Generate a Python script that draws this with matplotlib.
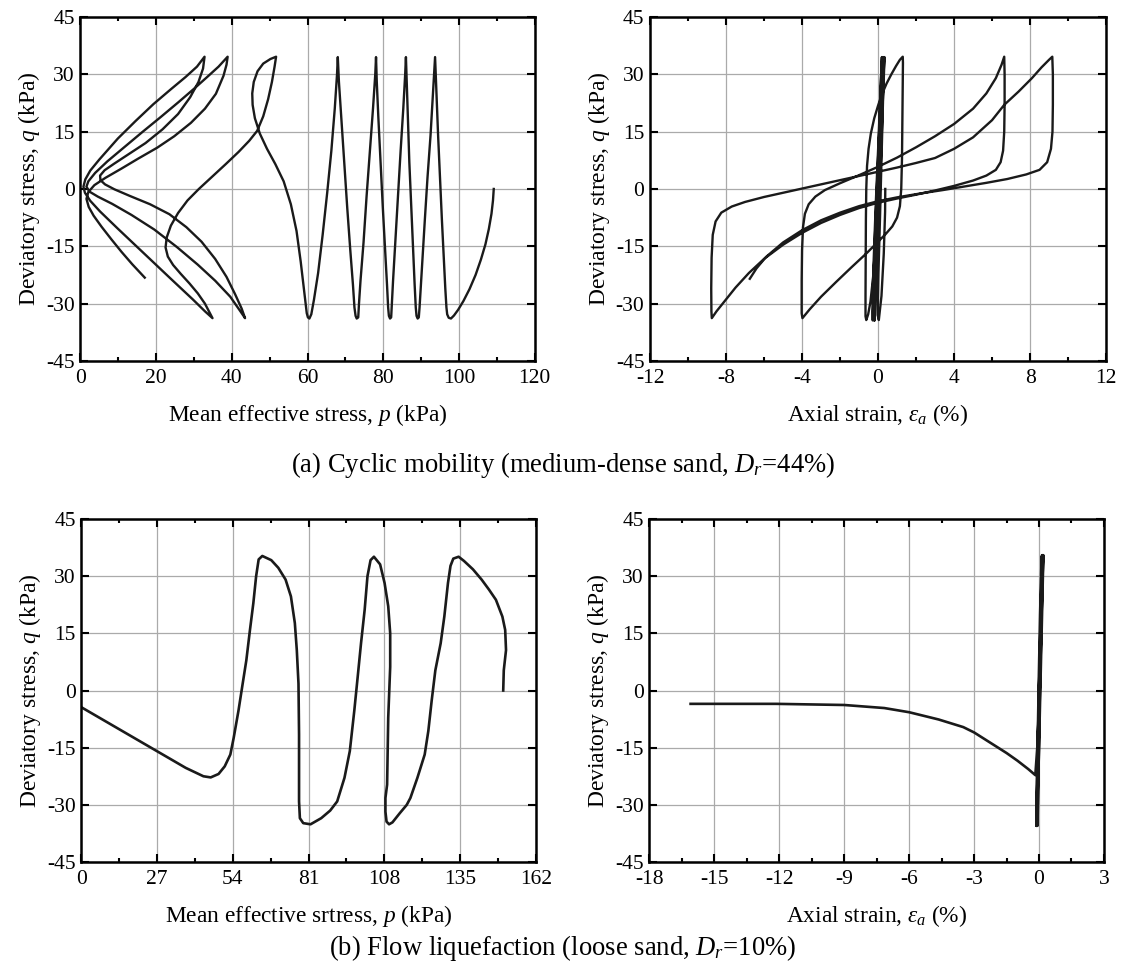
import numpy as np
from matplotlib import pyplot as plt
from matplotlib.ticker import MultipleLocator

plt.rcParams['font.family'] = ['Liberation Serif', 'DejaVu Serif']
plt.rcParams['mathtext.fontset'] = 'custom'
plt.rcParams['mathtext.rm'] = 'Liberation Serif'
plt.rcParams['mathtext.it'] = 'Liberation Serif:italic'
plt.rcParams['axes.unicode_minus'] = False

# (a) cyclic mobility, stress path p-q
pA = [109.2, 109.0, 108.6, 107.9, 107.0, 105.8, 104.4, 102.8, 101.2, 99.8, 98.7, 97.9, 97.3, 96.9, 96.7,
      96.4, 96.0, 95.5, 95.0, 94.5, 94.1, 93.8, 93.7,
      93.5, 93.1, 92.5, 91.7, 91.0, 90.4, 89.9, 89.6, 89.4, 89.1, 88.8, 88.6,
      88.3, 87.9, 87.4, 86.9, 86.5, 86.2, 86.0,
      85.8, 85.3, 84.6, 83.9, 83.2, 82.6, 82.3, 82.1, 81.8, 81.5, 81.3,
      81.0, 80.5, 79.9, 79.3, 78.7, 78.3, 78.1,
      77.9, 77.3, 76.5, 75.6, 74.8, 74.0, 73.6, 73.4, 73.0, 72.7, 72.4,
      72.0, 71.3, 70.5, 69.7, 68.9, 68.3, 68.0,
      67.8, 67.2, 66.3, 65.2, 64.0, 62.8, 61.7, 61.0, 60.5, 60.1, 59.8,
      59.5, 59.0, 58.2, 57.1, 55.6, 53.7, 51.5, 49.3, 47.4, 46.1, 45.5, 45.4, 45.8, 46.8, 48.3, 50.2, 51.7,
      51.3, 50.6, 49.6, 48.3, 46.7, 44.6, 41.8, 38.4, 34.8, 31.3, 28.3, 25.8, 23.9, 22.8, 22.5, 23.1,
      24.5, 26.5, 28.8, 31.0, 32.9, 34.1, 34.9,
      33.0, 29.7, 24.1, 16.5, 9.9, 5.2, 2.6, 1.2, 0.8, 1.3, 2.6, 5.0, 9.9, 14.6, 19.3, 23.8, 27.8, 30.8, 32.8,
      32.4, 31.2, 29.0, 25.8, 21.7, 17.2, 12.6, 8.9, 6.4, 5.2, 5.3, 6.5, 9.0, 13.0, 18.4, 23.5, 28.0, 32.0,
      35.6, 38.6, 40.9, 42.6, 43.5,
      42.4, 39.6, 35.6, 31.0, 25.5, 19.5, 13.5, 8.4, 4.6, 2.4, 1.6, 2.1, 3.9, 7.1, 11.8, 16.5, 21.2, 25.9,
      30.0, 33.5, 36.5, 38.9,
      38.6, 37.8, 35.8, 32.9, 29.2, 24.8, 20.3, 15.2, 10.8, 6.6, 3.7, 2.1, 1.6, 2.2, 3.5, 5.6, 8.2, 10.9,
      13.7, 17.0]
qA = [0.0, -3.0, -6.5, -10.5, -14.5, -18.5, -22.5, -26.2, -29.3, -31.6, -33.1, -33.9, -33.7, -32.8, -31.0,
      -26.0, -18.0, -8.0, 3.0, 14.0, 24.0, 31.0, 34.5,
      31.0, 24.0, 14.0, 3.0, -8.0, -18.0, -26.0, -31.0, -33.6, -33.9, -33.2, -31.0,
      -25.0, -16.0, -5.0, 7.0, 19.0, 28.0, 34.5,
      30.0, 21.0, 10.0, -2.0, -14.0, -24.0, -30.0, -33.6, -33.9, -33.2, -31.0,
      -25.0, -16.0, -5.0, 7.0, 19.0, 28.0, 34.5,
      30.0, 21.0, 10.0, -2.0, -14.0, -24.0, -30.0, -33.6, -33.9, -33.2, -31.0,
      -25.0, -16.0, -5.0, 7.0, 19.0, 28.0, 34.5,
      30.0, 21.0, 10.0, -1.0, -12.0, -22.0, -29.0, -32.8, -33.9, -33.6, -32.5,
      -30.0, -26.0, -19.0, -11.0, -4.0, 2.0, 6.5, 10.5, 14.5, 18.5, 22.0, 25.0, 28.0, 30.8, 32.8, 34.0, 34.6,
      32.0, 28.0, 23.5, 19.0, 15.2, 12.6, 9.7, 6.5, 3.2, 0.0, -3.0, -6.3, -9.6, -12.7, -15.3, -17.7,
      -19.9, -22.2, -24.7, -27.3, -30.0, -32.3, -33.8,
      -32.1, -28.9, -23.7, -16.6, -10.4, -5.9, -3.1, -1.0, 0.6, 2.5, 4.8, 7.7, 13.2, 17.8, 22.2, 26.0, 29.3, 32.0, 34.6,
      31.5, 28.0, 24.0, 19.6, 15.6, 12.0, 9.0, 6.6, 4.9, 3.5, 2.3, 1.2, -0.1, -1.8, -4.0, -6.6, -10.0, -13.8,
      -18.3, -23.0, -27.6, -31.3, -33.8,
      -32.2, -28.2, -24.0, -19.8, -15.2, -10.6, -6.8, -3.9, -2.0, -0.7, 0.6, 2.0, 4.2, 7.2, 11.1, 15.0, 18.8, 22.7,
      26.2, 29.3, 32.0, 34.6,
      32.5, 29.6, 24.9, 21.0, 17.3, 13.8, 10.8, 7.9, 5.3, 2.9, 1.0, -0.8, -2.6, -4.7, -7.0, -9.9, -13.2, -16.5,
      -19.7, -23.2]

# (a) cyclic mobility, stress-strain
epsA = [0.38, 0.37, 0.30, 0.18, 0.04,
        -0.02, 0.02, 0.10, 0.18, 0.26, 0.34,
        0.30, 0.22, 0.12, 0.01, -0.10, -0.18,
        -0.22, -0.17, -0.08, 0.03, 0.14, 0.24,
        0.21, 0.12, 0.01, -0.11, -0.22, -0.28,
        -0.30, -0.24, -0.13, 0.00, 0.12, 0.20,
        0.17, 0.08, -0.04, -0.16, -0.24, -0.20,
        -0.22, -0.15, -0.03, 0.10, 0.22, 0.30,
        0.28, 0.20, 0.10, -0.02, -0.14, -0.26, -0.40, -0.52, -0.62,
        -0.66, -0.66, -0.65, -0.64, -0.62, -0.58, -0.50, -0.38, -0.20, 0.00, 0.20, 0.45, 0.70, 0.95, 1.15, 1.30,
        1.31, 1.30, 1.28, 1.26, 1.22, 1.15, 1.00, 0.75, 0.40, 0.00, -0.60, -1.40, -2.20, -3.00, -3.60, -3.98,
        -4.02, -4.02, -4.00, -3.95, -3.85, -3.65, -3.30, -2.80, -2.00, -1.00, 0.00, 1.00, 2.00, 3.00, 4.00,
        5.00, 5.70, 6.20, 6.50, 6.64,
        6.66, 6.66, 6.64, 6.58, 6.45, 6.20, 5.70, 5.00, 4.00, 3.00, 2.00, 1.00, 0.00, -1.00, -2.00, -3.00,
        -4.00, -5.00, -6.00, -6.80, -7.50, -8.10, -8.50, -8.75,
        -8.77, -8.78, -8.76, -8.70, -8.55, -8.25, -7.70, -7.00, -6.00, -5.00, -4.00, -3.00, -2.00, -1.00,
        0.00, 1.00, 2.00, 3.00, 4.00, 5.00, 6.00, 6.64, 7.40, 8.10, 8.60, 9.00, 9.17,
        9.20, 9.20, 9.18, 9.10, 8.90, 8.50, 7.80, 6.80, 5.70, 4.50, 3.40, 2.20, 1.00, 0.00, -1.00, -2.00,
        -3.00, -4.00, -5.00, -5.90, -6.40, -6.75]
qAe = [0.0, -6.0, -17.0, -28.0, -34.3,
       -33.0, -22.0, -8.0, 8.0, 23.0, 34.5,
       31.0, 18.0, 3.0, -12.0, -26.0, -34.4,
       -32.0, -20.0, -5.0, 10.0, 25.0, 34.5,
       31.0, 18.0, 3.0, -12.0, -26.0, -34.4,
       -32.0, -20.0, -5.0, 10.0, 25.0, 34.5,
       31.0, 18.0, 3.0, -12.0, -26.0, -34.4,
       -32.0, -20.0, -5.0, 10.0, 25.0, 34.5,
       28.0, 18.0, 7.0, -4.0, -14.0, -23.0, -29.5, -32.8, -34.3,
       -33.3, -28.0, -18.0, -8.0, 0.0, 6.0, 10.5, 14.5, 18.5, 21.8, 24.7, 27.6, 30.0, 32.2, 33.8, 34.6,
       33.0, 28.0, 18.0, 8.0, 0.0, -4.5, -7.5, -9.8, -11.8, -13.8, -16.8, -20.5, -24.3, -28.2, -31.5, -33.8,
       -32.5, -24.0, -16.0, -10.0, -6.5, -4.0, -2.0, -0.3, 1.5, 3.6, 5.8, 8.2, 10.9, 13.8, 17.0,
       21.0, 25.0, 29.0, 32.5, 34.6,
       30.0, 22.0, 15.0, 10.0, 7.0, 5.0, 3.5, 2.2, 0.8, -0.4, -1.5, -2.5, -3.6, -5.0, -6.8, -8.9,
       -11.5, -14.6, -18.3, -22.0, -25.8, -29.5, -32.0, -33.8,
       -32.0, -26.0, -18.0, -12.0, -8.5, -6.2, -4.6, -3.4, -2.1, -1.0, 0.1, 1.2, 2.3, 3.4,
       4.5, 5.6, 6.8, 8.1, 10.5, 13.5, 18.0, 22.0, 25.5, 29.0, 31.8, 33.8, 34.6,
       30.0, 22.0, 15.0, 10.5, 7.0, 5.0, 3.8, 2.6, 1.6, 0.6, -0.3, -1.2, -2.2, -3.2, -4.5, -6.2,
       -8.2, -10.8, -14.0, -17.8, -20.8, -23.5]

# (b) flow liquefaction, stress path p-q
pB = [150.4, 150.6, 151.4, 151.1, 150.1, 147.8, 145.3, 142.7, 139.6, 136.4, 134.5,
      132.6, 131.6, 130.7, 129.4, 128.1, 126.2, 124.9, 123.7, 122.4, 119.8, 117.3,
      116.0, 113.5, 110.9, 109.7, 108.8, 108.4, 108.4, 109.0, 109.4, 110.1, 110.1,
      109.4, 108.1, 106.5, 104.3, 103.1, 102.0, 101.0, 99.7, 98.5, 97.3, 95.7, 93.8,
      91.2, 88.7, 85.5, 81.7, 79.1, 77.9, 77.6, 77.6, 77.6, 77.4, 76.8, 76.1, 74.7,
      72.8, 70.2, 67.7, 64.5, 63.2, 62.3, 61.3, 60.1, 58.8, 57.5, 56.0, 54.3, 53.1,
      51.1, 48.9, 46.1, 43.5, 37.2, 0.0]
qB = [0.0, 5.3, 10.6, 15.9, 19.4, 23.8, 26.5, 29.1, 31.8, 34.0, 35.1,
      34.6, 32.7, 28.2, 19.4, 12.4, 5.3, -2.6, -10.6, -16.8, -22.9, -28.2,
      -30.0, -32.2, -34.6, -35.1, -34.4, -31.8, -28.2, -24.7, -7.1, 6.2, 15.0,
      22.1, 28.2, 33.1, 35.1, 34.2, 30.0, 21.2, 12.4, 3.5, -5.3, -15.9, -22.9,
      -29.1, -31.5, -33.5, -35.1, -34.8, -33.5, -29.1, -24.7, -11.5, 1.8, 10.6, 17.7, 24.7,
      29.1, 32.2, 34.2, 35.3, 34.4, 30.0, 22.9, 15.9, 7.9, 1.8, -5.3, -12.4, -16.8,
      -19.9, -21.9, -22.8, -22.5, -20.3, -4.4]

# (b) flow liquefaction, stress-strain
epsB = [0.00, 0.06, 0.12, 0.18, 0.12, 0.02, -0.06, -0.12, -0.08, 0.00, 0.08, 0.14,
        0.10, 0.02, -0.05, -0.10, -0.06, 0.02, 0.09, 0.16, 0.12, 0.04, -0.02, -0.07,
        -0.04, 0.03, 0.10, 0.20, 0.14, 0.06, -0.02, -0.12, -0.08, -0.02, 0.05, 0.12,
        0.08, 0.00, -0.08, -0.17,
        -0.50, -1.00, -1.50, -2.00, -2.50, -3.00, -3.50, -4.64, -6.00, -7.15, -9.00, -12.15, -16.10]
qBe = [0.0, 12.0, 25.0, 35.5, 20.0, 0.0, -20.0, -35.5, -20.0, 0.0, 20.0, 35.5,
       20.0, 0.0, -20.0, -35.5, -20.0, 0.0, 20.0, 35.5, 20.0, 0.0, -20.0, -35.5,
       -20.0, 0.0, 20.0, 35.5, 20.0, 0.0, -20.0, -35.5, -20.0, 0.0, 20.0, 35.0,
       15.0, -5.0, -15.0, -22.2,
       -20.6, -18.4, -16.4, -14.6, -12.8, -11.0, -9.6, -7.6, -5.7, -4.6, -3.8, -3.5, -3.5]

fig = plt.figure(figsize=(11.26, 9.69), dpi=100)

panels = [
    ([0.0714, 0.6275, 0.4034, 0.355], pA, qA, (0, 120), 20, 10, 'Mean effective stress, $p$ (kPa)', 1.7),
    ([0.5773, 0.6275, 0.4050, 0.355], epsA, qAe, (-12, 12), 4, 2, 'Axial strain, $\\varepsilon_a$ (%)', 1.7),
    ([0.0723, 0.1104, 0.4035, 0.354], pB, qB, (0, 162), 27, 13.5, 'Mean effective srtress, $p$ (kPa)', 1.9),
    ([0.5768, 0.1104, 0.4036, 0.354], epsB, qBe, (-18, 3), 3, 1.5, 'Axial strain, $\\varepsilon_a$ (%)', 1.9),
]

for rect, xs, ys, xlim, major, minor, xlabel, lw in panels:
    ax = fig.add_axes(rect)
    ax.plot(xs, ys, color='#1a1a1a', lw=lw, solid_joinstyle='round')
    ax.set_xlim(*xlim)
    ax.set_ylim(-45, 45)
    ax.xaxis.set_major_locator(MultipleLocator(major))
    ax.xaxis.set_minor_locator(MultipleLocator(minor))
    ax.yaxis.set_major_locator(MultipleLocator(15))
    ax.grid(True, which='major', color='#aaaaaa', lw=0.9)
    ax.set_axisbelow(True)
    ax.tick_params(which='both', direction='in', top=True, right=True, labelsize=15.5, width=1.5)
    ax.tick_params(axis='x', pad=6)
    ax.tick_params(axis='y', pad=4)
    ax.tick_params(which='major', length=6)
    ax.tick_params(which='minor', length=3)
    for s in ax.spines.values():
        s.set_linewidth(1.8)
    ax.set_xlabel(xlabel, fontsize=16.8, labelpad=10)
    ax.set_ylabel('Deviatory stress, $q$ (kPa)', fontsize=17, labelpad=3)

fig.text(0.5, 1 - 465 / 969, '(a) Cyclic mobility (medium-dense sand, $D_r$=44%)', ha='center', va='center', fontsize=19.2)
fig.text(0.5, 1 - 948 / 969, '(b) Flow liquefaction (loose sand, $D_r$=10%)', ha='center', va='center', fontsize=19.2)

fig.savefig('out.png', dpi=100)
